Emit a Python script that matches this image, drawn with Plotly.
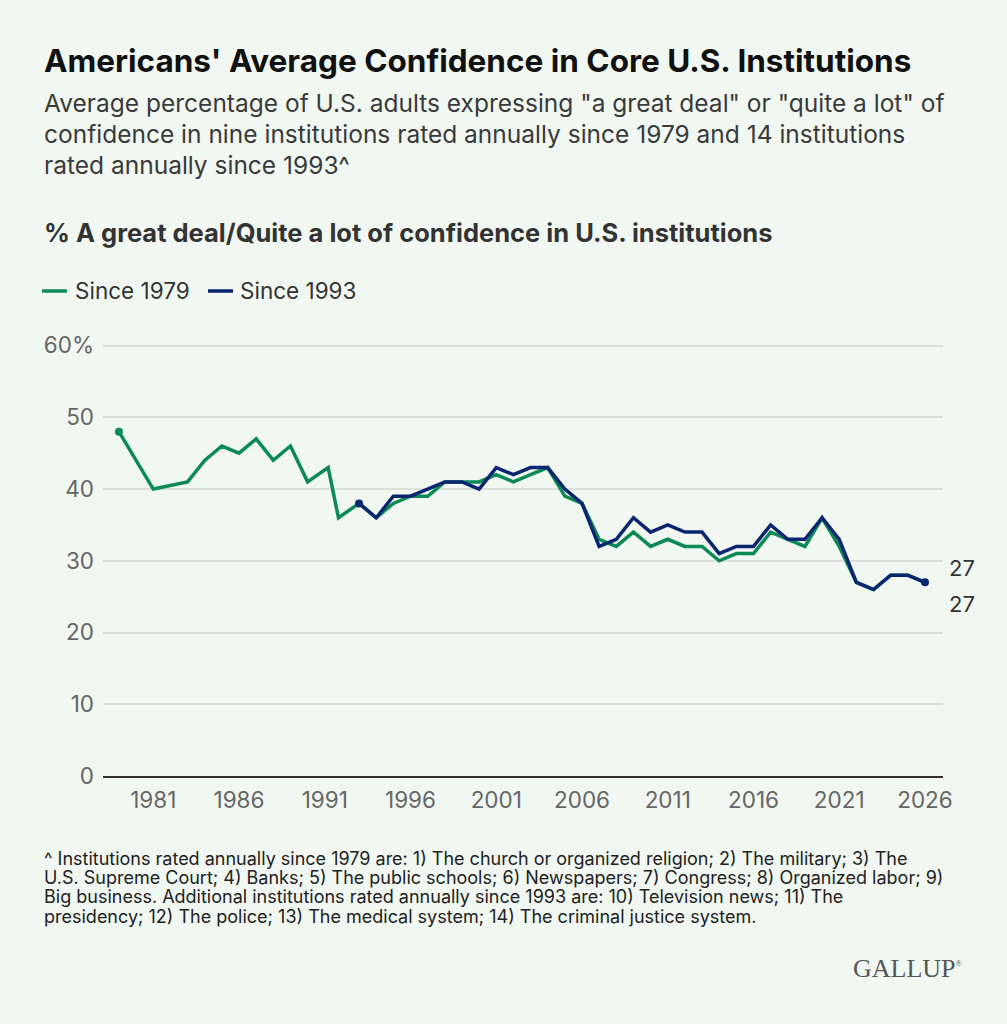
import plotly.graph_objects as go

# survey years (1991 had two readings, spring and fall)
years_1979 = [1979, 1981, 1983, 1984, 1985, 1986, 1987, 1988, 1989, 1990, 1991.2, 1991.8,
              1993, 1994, 1995, 1996, 1997, 1998, 1999, 2000, 2001, 2002, 2003, 2004,
              2005, 2006, 2007, 2008, 2009, 2010, 2011, 2012, 2013, 2014, 2015, 2016,
              2017, 2018, 2019, 2020, 2021, 2022, 2023, 2024, 2025, 2026]
since_1979 = [48, 40, 41, 44, 46, 45, 47, 44, 46, 41, 43, 36,
              38, 36, 38, 39, 39, 41, 41, 41, 42, 41, 42, 43,
              39, 38, 33, 32, 34, 32, 33, 32, 32, 30, 31, 31,
              34, 33, 32, 36, 32, 27, 26, 28, 28, 27]

years_1993 = [1993, 1994, 1995, 1996, 1997, 1998, 1999, 2000, 2001, 2002, 2003, 2004,
              2005, 2006, 2007, 2008, 2009, 2010, 2011, 2012, 2013, 2014, 2015, 2016,
              2017, 2018, 2019, 2020, 2021, 2022, 2023, 2024, 2025, 2026]
since_1993 = [38, 36, 39, 39, 40, 41, 41, 40, 43, 42, 43, 43,
              40, 38, 32, 33, 36, 34, 35, 34, 34, 31, 32, 32,
              35, 33, 33, 36, 33, 27, 26, 28, 28, 27]

x_ticks = [1981, 1986, 1991, 1996, 2001, 2006, 2011, 2016, 2021, 2026]
y_ticks = [0, 10, 20, 30, 40, 50, 60]
y_ticktext = ["0", "10", "20", "30", "40", "50", "60%"]

GREEN = "#0B8A55"
NAVY = "#0B2670"
BG = "#F1F7F1"
FONT = "Inter, Roboto, sans-serif"

W, H = 1007, 1024
L, R, T, B = 103, 64, 342, 248


def px_x(px):
    return (px - L) / (W - L - R)


def px_y(py):
    return (H - B - py) / (H - T - B)


fig = go.Figure()

fig.add_trace(go.Scatter(
    x=years_1979, y=since_1979, mode="lines", name="Since 1979",
    line=dict(color=GREEN, width=3.5), hoverinfo="x+y"
))
fig.add_trace(go.Scatter(
    x=years_1993, y=since_1993, mode="lines", name="Since 1993",
    line=dict(color=NAVY, width=3.5), hoverinfo="x+y"
))
# start / end dots
fig.add_trace(go.Scatter(
    x=[years_1979[0]], y=[since_1979[0]], mode="markers",
    marker=dict(color=GREEN, size=8), hoverinfo="skip"
))
fig.add_trace(go.Scatter(
    x=[years_1993[0], years_1993[-1]], y=[since_1993[0], since_1993[-1]], mode="markers",
    marker=dict(color=NAVY, size=8), hoverinfo="skip"
))

# end labels
fig.add_annotation(x=years_1993[-1], y=since_1993[-1], text=str(since_1993[-1]),
                   xref="x", yref="y", showarrow=False, xanchor="left", yanchor="middle",
                   xshift=22, yshift=14, font=dict(size=22, color="#333333", family=FONT))
fig.add_annotation(x=years_1979[-1], y=since_1979[-1], text=str(since_1979[-1]),
                   xref="x", yref="y", showarrow=False, xanchor="left", yanchor="middle",
                   xshift=22, yshift=-22, font=dict(size=22, color="#333333", family=FONT))

texts = [
    (42, 60, "<b>Americans' Average Confidence in Core U.S. Institutions</b>", 31.5, "#111111"),
    (42, 103, "Average percentage of U.S. adults expressing \"a great deal\" or \"quite a lot\" of", 24.5, "#3a3a3a"),
    (42, 134, "confidence in nine institutions rated annually since 1979 and 14 institutions", 24.5, "#3a3a3a"),
    (42, 165, "rated annually since 1993^", 24.5, "#3a3a3a"),
    (42, 232, "<b>% A great deal/Quite a lot of confidence in U.S. institutions</b>", 25.5, "#333333"),
    (73, 290, "Since 1979", 22.5, "#333333"),
    (238, 290, "Since 1993", 22.5, "#333333"),
]
footnote = [
    "^ Institutions rated annually since 1979 are: 1) The church or organized religion; 2) The military; 3) The",
    "U.S. Supreme Court; 4) Banks; 5) The public schools; 6) Newspapers; 7) Congress; 8) Organized labor; 9)",
    "Big business. Additional institutions rated annually since 1993 are: 10) Television news; 11) The",
    "presidency; 12) The police; 13) The medical system; 14) The criminal justice system.",
]
for i, line in enumerate(footnote):
    texts.append((42, 858 + i * 19.4, line, 18, "#222222"))

for px, py, t, size, col in texts:
    fig.add_annotation(x=px_x(px), y=px_y(py), xref="paper", yref="paper", text=t,
                       showarrow=False, xanchor="left", yanchor="middle", align="left",
                       font=dict(size=size, color=col, family=FONT))

# legend keys
for x0, col in [(42, GREEN), (208, NAVY)]:
    fig.add_shape(type="line", xref="paper", yref="paper",
                  x0=px_x(x0), x1=px_x(x0 + 25), y0=px_y(291), y1=px_y(291),
                  line=dict(color=col, width=3.5))

fig.add_annotation(x=px_x(964), y=px_y(968), xref="paper", yref="paper",
                   text="GALLUP<sup><span style='font-size:8px'>®</span></sup>",
                   showarrow=False, xanchor="right", yanchor="middle",
                   font=dict(size=26, color="#555555", family="Liberation Serif, serif"))

fig.update_layout(
    width=W, height=H,
    margin=dict(l=L, r=R, t=T, b=B),
    paper_bgcolor=BG, plot_bgcolor=BG,
    showlegend=False,
    font=dict(family=FONT, color="#666666"),
)
fig.update_xaxes(
    range=[1978.07, 2027.05], tickvals=x_ticks, showgrid=False, zeroline=False,
    showline=True, linecolor="#333333", linewidth=1.5, ticks="",
    tickfont=dict(size=22.5, color="#666666"), ticklabelstandoff=3,
)
fig.update_yaxes(
    range=[0, 60.5], tickvals=y_ticks, ticktext=y_ticktext, showgrid=True,
    gridcolor="#DCE0DA", gridwidth=1.5, zeroline=False, showline=False, ticks="",
    tickfont=dict(size=22.5, color="#666666"), ticklabelstandoff=8,
)

fig.write_html("out.html", config={"displayModeBar": False},
               post_script="document.body.style.margin='0';")
